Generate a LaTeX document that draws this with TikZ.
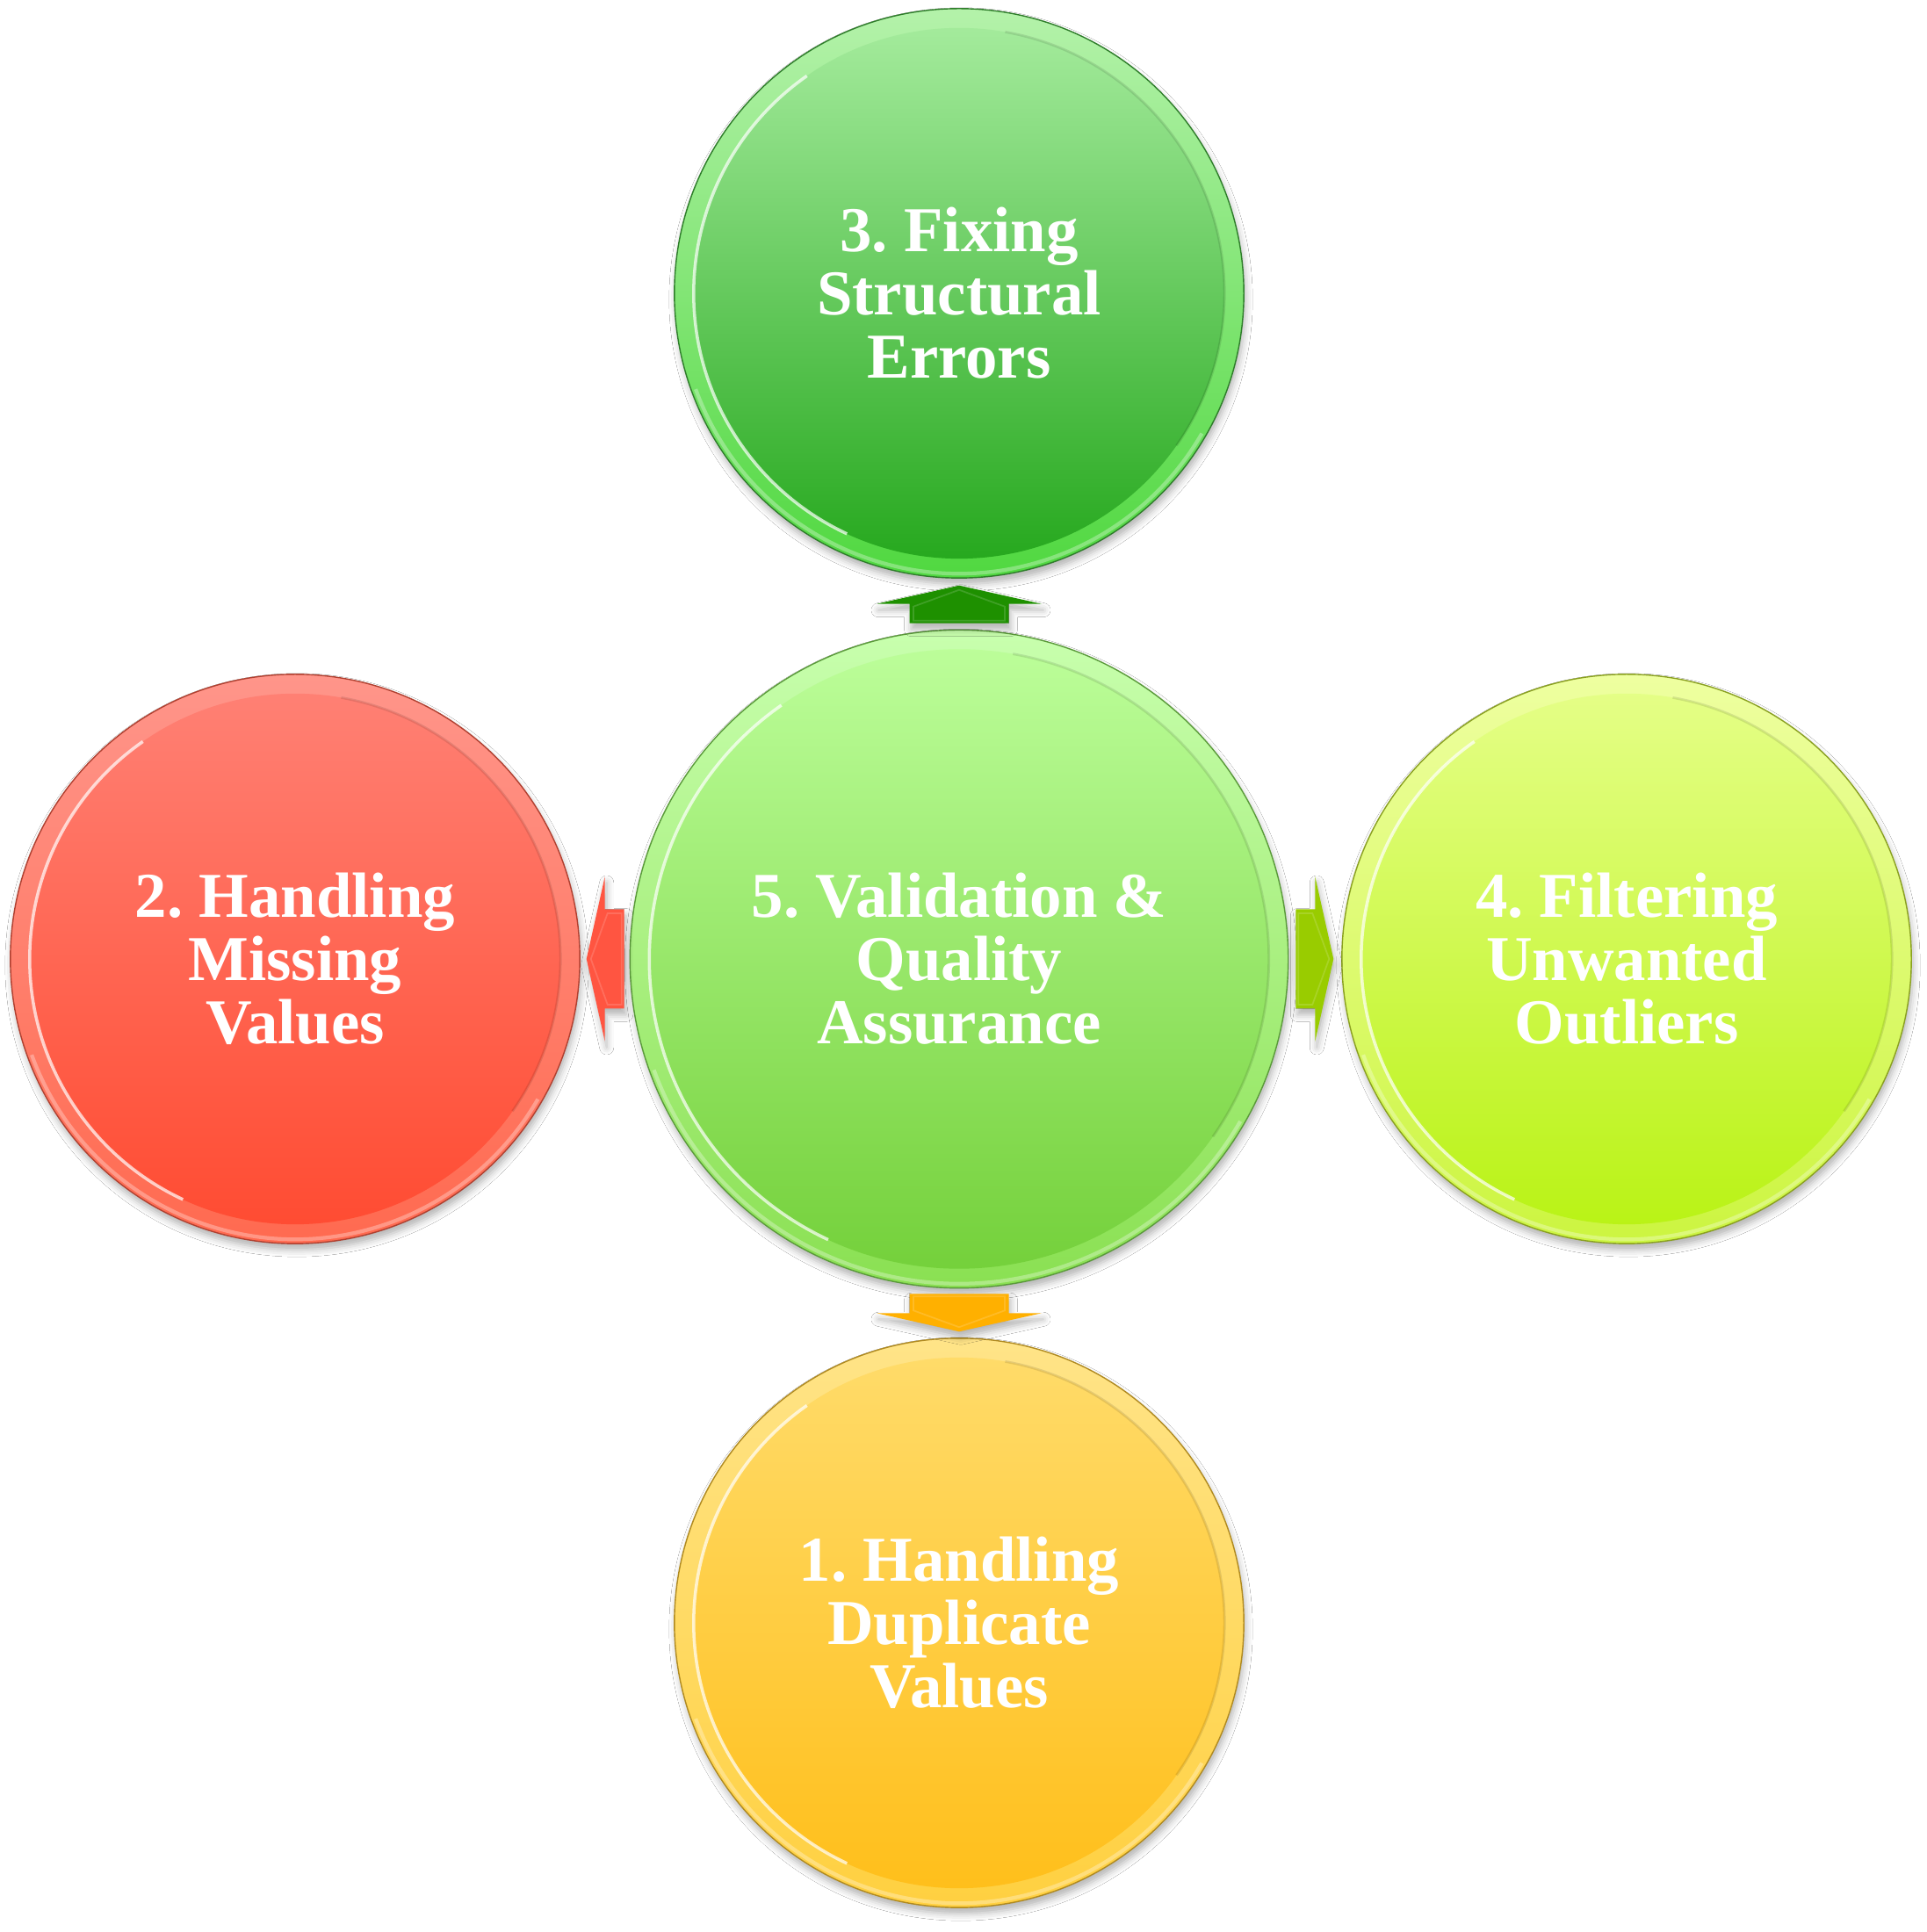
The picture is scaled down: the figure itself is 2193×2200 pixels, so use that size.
\documentclass[tikz,border=0pt]{standalone}
\usepackage{fontspec}
\setmainfont{Liberation Serif}
\usetikzlibrary{calc,shadows.blur}
% circle colours: rim top, rim bottom, inner top, inner bottom, edge
\definecolor{gAr}{HTML}{B4F2AA}\definecolor{gBr}{HTML}{50D840}
\definecolor{gAi}{HTML}{A8EDA0}\definecolor{gBi}{HTML}{22A61A}\definecolor{gE}{HTML}{2E7D2A}
\definecolor{lAr}{HTML}{C8FFAE}\definecolor{lBr}{HTML}{8AE052}
\definecolor{lAi}{HTML}{BEFF9C}\definecolor{lBi}{HTML}{72CF38}\definecolor{lE}{HTML}{5A9A3A}
\definecolor{rAr}{HTML}{FF958A}\definecolor{rBr}{HTML}{FF6A50}
\definecolor{rAi}{HTML}{FF8276}\definecolor{rBi}{HTML}{FF4A30}\definecolor{rE}{HTML}{B04030}
\definecolor{yAr}{HTML}{EEFFA0}\definecolor{yBr}{HTML}{CCF540}
\definecolor{yAi}{HTML}{E6FF8A}\definecolor{yBi}{HTML}{B8F212}\definecolor{yE}{HTML}{8AA020}
\definecolor{oAr}{HTML}{FFE488}\definecolor{oBr}{HTML}{FFD040}
\definecolor{oAi}{HTML}{FFDC6C}\definecolor{oBi}{HTML}{FFBE18}\definecolor{oE}{HTML}{B08A20}
% arrow colours
\definecolor{arrG}{HTML}{1E9000}
\definecolor{arrO}{HTML}{FFB000}
\definecolor{arrR}{HTML}{FF5541}
\definecolor{arrY}{HTML}{99CC00}
\tikzset{
  softshadow/.style={blur shadow={shadow xshift=0.02cm, shadow yshift=-0.07cm,
      shadow blur radius=0.08cm, shadow opacity=30}},
  bubble/.style n args={6}{circle, inner sep=0pt, outer sep=0pt,
    minimum size={2*#1}, top color=#2, bottom color=#3, draw=#6, line width=0.4pt,
    softshadow, text=white, align=center,
    font=\bfseries\fontsize{20.7}{20.5}\selectfont,
    path picture={
      \shade[top color=#4, bottom color=#5] (path picture bounding box.center) circle[radius={#1-0.22cm}];
      \draw[white, opacity=0.7, line width=1pt] (path picture bounding box.center) ++(125:{#1-0.22cm})
          arc[start angle=125, end angle=245, radius={#1-0.22cm}];
      \draw[black, opacity=0.10, line width=0.8pt] (path picture bounding box.center) ++(-35:{#1-0.22cm})
          arc[start angle=-35, end angle=80, radius={#1-0.22cm}];
      \draw[white, opacity=0.3, line width=1.2pt] (path picture bounding box.center) ++(200:{#1-0.05cm})
          arc[start angle=200, end angle=330, radius={#1-0.05cm}];
    }},
  arrowbody/.style={fill=#1, draw=none, softshadow},
  arrowbevel/.style={draw=white, draw opacity=0.15, line width=0.5pt}
}
\newcommand\blockarrow[3]{%
  \begin{scope}[shift={(#1)}, rotate=#2]
    \fill[arrowbody=#3] (-22,-56.5) -- (0,-56.5) -- (0,-94) -- (21,0) -- (0,94) -- (0,56.5) -- (-22,56.5) -- cycle;
    \draw[arrowbevel] (-19,-52) -- (-3,-52) -- (16,0) -- (-3,52) -- (-19,52) -- cycle;
    \draw[black, opacity=0.15, line width=0.5pt] (-22,-56.5) -- (0,-56.5);
  \end{scope}}
\begin{document}
\frenchspacing
\begin{tikzpicture}[x=0.01cm, y=0.01cm]
\useasboundingbox (0,0) rectangle (2193,2200);
\fill[white] (0,0) rectangle (2193,2200);

\node[bubble={3.24cm}{gAr}{gBr}{gAi}{gBi}{gE}] (c3) at (1092,1866) {3. Fixing\\Structural\\Errors};
\node[bubble={3.24cm}{rAr}{rBr}{rAi}{rBi}{rE}] (c2) at (336,1108) {2. Handling\\Missing\\Values};
\node[bubble={3.24cm}{yAr}{yBr}{yAi}{yBi}{yE}] (c4) at (1852,1108) {4. Filtering\\Unwanted\\Outliers};
\node[bubble={3.24cm}{oAr}{oBr}{oAi}{oBi}{oE}] (c1) at (1092,352) {1. Handling\\Duplicate\\Values};
\node[bubble={3.745cm}{lAr}{lBr}{lAi}{lBi}{lE}] (c5) at (1092,1108) {5. Validation \&\\Quality\\Assurance};

\coordinate (a3) at ($(c5.north)!0.5!(c3.south)$);
\coordinate (a1) at ($(c5.south)!0.5!(c1.north)$);
\coordinate (a2) at ($(c5.west)!0.5!(c2.east)$);
\coordinate (a4) at ($(c5.east)!0.5!(c4.west)$);

\blockarrow{a3}{90}{arrG}
\blockarrow{a1}{-90}{arrO}
\blockarrow{a2}{180}{arrR}
\blockarrow{a4}{0}{arrY}
\end{tikzpicture}
\end{document}
